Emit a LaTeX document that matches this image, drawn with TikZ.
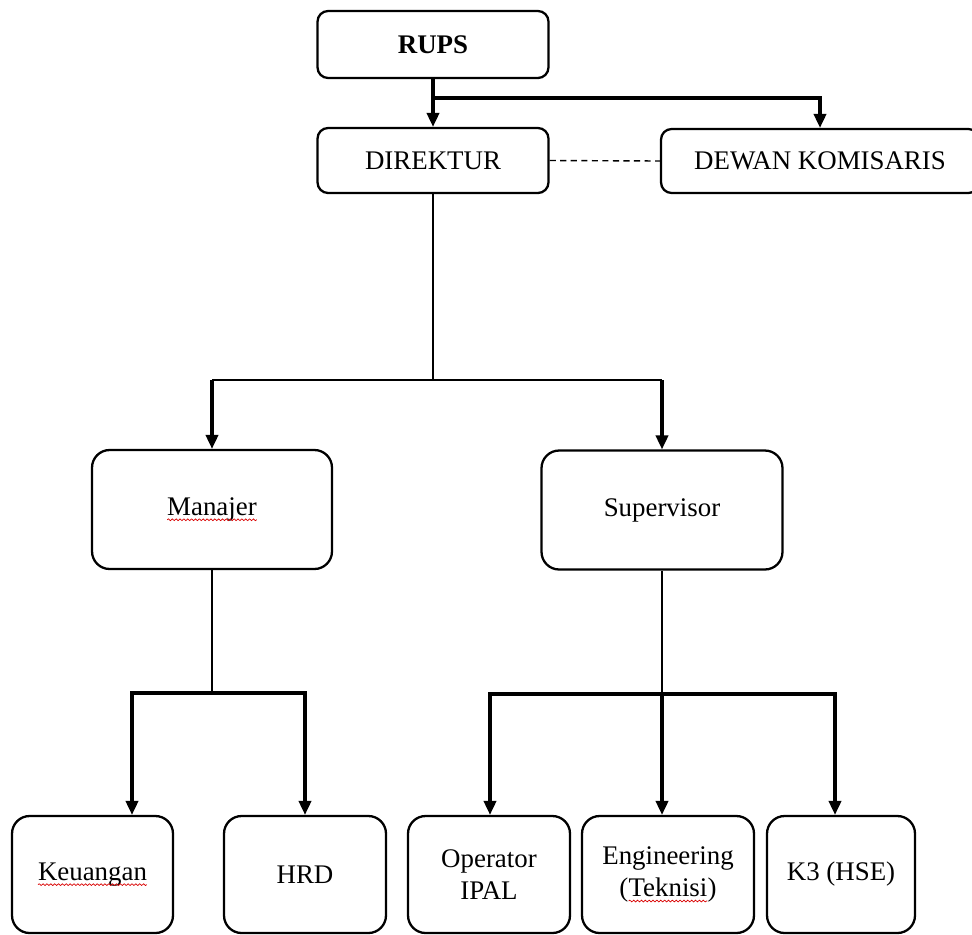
\documentclass[tikz,border=0pt]{standalone}
\usepackage{fontspec}
\setmainfont{Liberation Serif}
\usepackage{tikz}
\usetikzlibrary{arrows.meta,calc,decorations.pathmorphing}

% word with a red wavy mark below it
\newcommand{\typo}[1]{\tikz[baseline=(w.base), x=1cm, y=1cm, sharp corners]{%
    \node[draw=none, inner sep=0pt, outer sep=0pt, minimum size=0pt] (w) {#1};
    \draw[red!85!black, line width=0.4pt, decorate, decoration={snake, amplitude=0.5pt, segment length=2.2pt}]
        ([yshift=-2.4pt]w.base west) -- ([yshift=-2.4pt]w.base east);}}

\begin{document}
\begin{tikzpicture}[x=0.02cm, y=-0.02cm,
    unit/.style={draw, line width=1.3pt, rounded corners=6pt, align=center, inner sep=0pt,
        font=\fontsize{15.3}{18.5}\selectfont},
    bigunit/.style={unit, rounded corners=10pt},
    link/.style={line width=1.1pt},
    bar/.style={line width=1.8pt},
    feed/.style={bar, -{Triangle[length=8pt,width=7pt]}},
    twofeed/.style={bar, {Triangle[length=8pt,width=7pt]}-{Triangle[length=8pt,width=7pt]}}]
    \useasboundingbox (0,0) rectangle (972,934);

    % Top
    \node[unit, minimum width=4.62cm, minimum height=1.34cm] (rups) at (433,44.5) {\textbf{RUPS}};
    \node[unit, minimum width=4.62cm, minimum height=1.30cm] (direktur) at (433,160.5) {DIREKTUR};
    \node[unit, minimum width=6.36cm, minimum height=1.28cm] (dewan) at (820,161) {DEWAN KOMISARIS};
    \coordinate (top) at (433,98);
    \draw[feed] (rups.south) -- (direktur.north);
    \draw[feed] (top) -| (dewan.north);
    \draw[line width=0.8pt, dash pattern=on 3.5pt off 2.5pt] (direktur.east) -- (dewan.west);

    % Middle
    \node[bigunit, minimum width=4.80cm, minimum height=2.38cm] (manajer) at (212,509.5) {\typo{Manajer}};
    \node[bigunit, minimum width=4.82cm, minimum height=2.38cm] (supervisor) at (662,510) {Supervisor};
    \coordinate (split) at (433,380);
    \draw[link] (direktur.south) -- (split);
    \draw[link] (split -| manajer.north) -- (split -| supervisor.north);
    \draw[feed] (split -| manajer.north) -- (manajer.north);
    \draw[feed] (split -| supervisor.north) -- (supervisor.north);

    % Bottom
    \node[bigunit, minimum width=3.22cm, minimum height=2.34cm] (keuangan) at (92.5,874.5) {\typo{Keuangan}};
    \node[bigunit, minimum width=3.24cm, minimum height=2.34cm] (hrd) at (305,874.5) {HRD};
    \node[bigunit, minimum width=3.24cm, minimum height=2.34cm] (operator) at (489,874.5) {Operator\\IPAL};
    \node[bigunit, minimum width=3.44cm, minimum height=2.34cm] (engineering) at (668,874.5) {Engineering\\(\typo{Teknisi})};
    \node[bigunit, minimum width=2.96cm, minimum height=2.34cm] (k3) at (841,874.5) {K3 (HSE)};

    \coordinate (mL) at (132,693);
    \coordinate (mR) at (305,693);
    \draw[link] (manajer.south) -- (manajer.south |- mL);
    \draw[twofeed] (mL |- keuangan.north) -- (mL) -- (mR) -- (mR |- hrd.north);

    \coordinate (sL) at (490,694);
    \coordinate (sR) at (835,694);
    \draw[link] (supervisor.south) -- (supervisor.south |- sL);
    \draw[twofeed] (sL |- operator.north) -- (sL) -- (sR) -- (sR |- k3.north);
    \draw[feed] (supervisor.south |- sL) -- (supervisor.south |- engineering.north);
\end{tikzpicture}
\end{document}
